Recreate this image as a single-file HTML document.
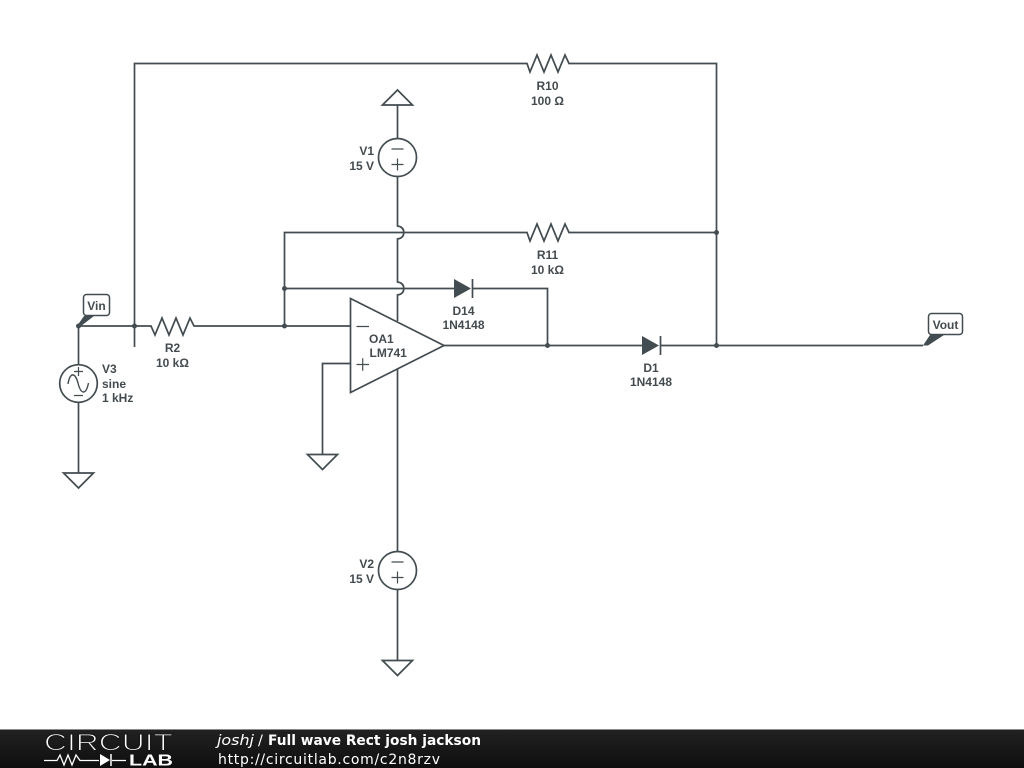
<!DOCTYPE html>
<html><head><meta charset="utf-8"><style>
html,body{margin:0;padding:0;background:#fff}
svg{display:block}
.w{fill:none;stroke:#434c50;stroke-width:1.7}
.t{fill:none;stroke:#434c50;stroke-width:1.2}
text{font-family:"Liberation Sans",sans-serif;font-size:12px;font-weight:bold;fill:#444b4f;text-anchor:middle}
.l{text-anchor:start}.r{text-anchor:end}
.d{fill:#434c50;stroke:none}
.f{font-family:"DejaVu Sans",sans-serif;fill:#fff;text-anchor:start}
</style></head><body>
<svg width="1024" height="768" viewBox="0 0 1024 768" xmlns="http://www.w3.org/2000/svg">
<defs><linearGradient id="g" x1="0" y1="0" x2="0" y2="1"><stop offset="0" stop-color="#222"/><stop offset="1" stop-color="#0e0e0e"/></linearGradient></defs>
<rect width="1024" height="768" fill="#fff"/>
<!-- R10 loop -->
<path class="w" d="M134.500 347V63.500H527L530 72L537 55L544 72L551 55L558 72L565 55L569 63.500H716.500V345.500"/>
<!-- R11 line -->
<path class="w" d="M284.500 326V232.500H527L530 241L537 224L544 241L551 224L558 241L565 224L569 232.500H716.500"/>
<!-- D14 line -->
<path class="w" d="M284.500 288.500H454M472 288.500H547.500V345.500"/>
<path class="d" d="M454 279V298L471 288.500Z"/><path class="w" d="M472.500 279V298"/>
<!-- V1 vertical with hops, V2 vertical -->
<path class="w" d="M397.500 105V138M397.500 177V226Q403.800 227 403.800 232.500Q403.800 238 397.500 239V282Q403.800 283 403.800 288.500Q403.800 294 397.500 295V321M397.500 369V551M397.500 590V660"/>
<!-- op-amp -->
<path d="M350.500 298.500V392.500L444 345.500Z" fill="#fff" stroke="#434c50" stroke-width="1.700"/>
<path class="t" d="M356.500 326.500H369M356.500 364.500H369M362.700 358.300V370.700"/>
<!-- input wire -->
<path class="w" d="M78.500 326H151L155 335L162 318L169 335L176 318L183 335L190 318L194 326H350"/>
<path class="w" d="M350 363.500H322.500V454"/>
<!-- output -->
<path class="w" d="M444 345.500H642M660 345.500H923"/>
<path class="d" d="M642 336V355L659 345.500Z"/><path class="w" d="M660.500 336V355"/>
<!-- V3 -->
<path class="w" d="M78.500 326V364M78.500 403V473"/>
<circle class="w" cx="78.500" cy="383.500" r="18.800"/>
<path class="t" d="M78.500 367V376M74 371.500H83M74 395.500H83"/>
<path class="w" style="stroke-width:1.400" d="M68 384C70 372 75 372 78 383C81 395 86 395 88.500 383"/>
<!-- V1 -->
<circle class="w" cx="397.500" cy="157.500" r="19"/>
<path class="t" d="M391.500 149H403.500M391.500 164.500H403.500M397.500 158.500V170.500"/>
<!-- V2 -->
<circle class="w" cx="397.500" cy="570.500" r="19"/>
<path class="t" d="M391.500 562H403.500M391.500 577.500H403.500M397.500 571.500V583.500"/>
<!-- rails -->
<path class="w" d="M382.500 105H412.500L397.500 90Z"/>
<path class="w" d="M307.500 454.500H337.500L322.500 469.500Z"/>
<path class="w" d="M63.500 473H93.500L78.500 488Z"/>
<path class="w" d="M382.500 660.500H412.500L397.500 675.500Z"/>
<!-- dots -->
<g class="d"><circle cx="78.500" cy="326" r="2.500"/><circle cx="134.500" cy="326" r="2.500"/><circle cx="284.500" cy="326" r="2.500"/><circle cx="284.500" cy="288.500" r="2.500"/><circle cx="547.500" cy="345.500" r="2.500"/><circle cx="716.500" cy="345.500" r="2.500"/><circle cx="716.500" cy="232.500" r="2.500"/></g>
<!-- Vin flag -->
<path class="d" d="M77 326L84 316H94L81 326Z"/>
<rect x="83.500" y="294.500" width="26" height="21" rx="3" fill="#fff" stroke="#434c50" stroke-width="1.500"/>
<text x="96.500" y="310">Vin</text>
<!-- Vout flag -->
<path class="d" d="M923 345.500L930 335H944L928 345.500Z"/>
<rect x="928.500" y="313.500" width="34" height="21" rx="3" fill="#fff" stroke="#434c50" stroke-width="1.500"/>
<text x="945.500" y="329">Vout</text>
<!-- labels -->
<text x="547.500" y="90">R10</text><text x="547.500" y="105">100 Ω</text>
<text x="547.500" y="259">R11</text><text x="547.500" y="274">10 kΩ</text>
<text x="172.500" y="352">R2</text><text x="172.500" y="367">10 kΩ</text>
<text x="463.500" y="315">D14</text><text x="463.500" y="329">1N4148</text>
<text x="651" y="372">D1</text><text x="651" y="386">1N4148</text>
<text class="l" x="369" y="343">OA1</text><text class="l" x="369.500" y="357">LM741</text>
<text class="r" x="374" y="155">V1</text><text class="r" x="374" y="170">15 V</text>
<text class="r" x="374" y="568">V2</text><text class="r" x="374" y="583">15 V</text>
<text class="l" x="102" y="373">V3</text><text class="l" x="102" y="388">sine</text><text class="l" x="102" y="402">1 kHz</text>
<!-- footer -->
<rect y="729" width="1024" height="39" fill="url(#g)"/>
<rect y="729" width="1024" height="1" fill="#8a8a8a"/>
<text x="44" y="750.500" class="l" textLength="129" lengthAdjust="spacingAndGlyphs" style="font-size:24.500px;font-weight:normal;fill:#fff;stroke:#181818;stroke-width:1.100">CIRCUIT</text>
<path d="M44 760.500H57L60 755L64 765L68 755L72 765L76 755L80 760.500H99M112 760.500H126" fill="none" stroke="#fff" stroke-width="1.300"/>
<path d="M100 754V766L110 760Z" fill="#fff"/><path d="M111 754V766" stroke="#fff" stroke-width="1.500"/>
<text x="129" y="765.500" class="l" textLength="44" lengthAdjust="spacingAndGlyphs" style="font-size:16px;fill:#fff">LAB</text>
<text class="f" x="217" y="745" textLength="37" lengthAdjust="spacingAndGlyphs" style="font-size:14.500px;font-weight:normal;font-style:italic">joshj</text>
<text class="f" x="258" y="745" style="font-size:14.500px;font-weight:normal">/</text>
<text class="f" x="268" y="745" textLength="213" lengthAdjust="spacingAndGlyphs" style="font-size:14px;font-weight:bold">Full wave Rect josh jackson</text>
<text class="f" x="218" y="764" textLength="222" style="font-size:14px;font-weight:normal">http://circuitlab.com/c2n8rzv</text>
</svg>
</body></html>
